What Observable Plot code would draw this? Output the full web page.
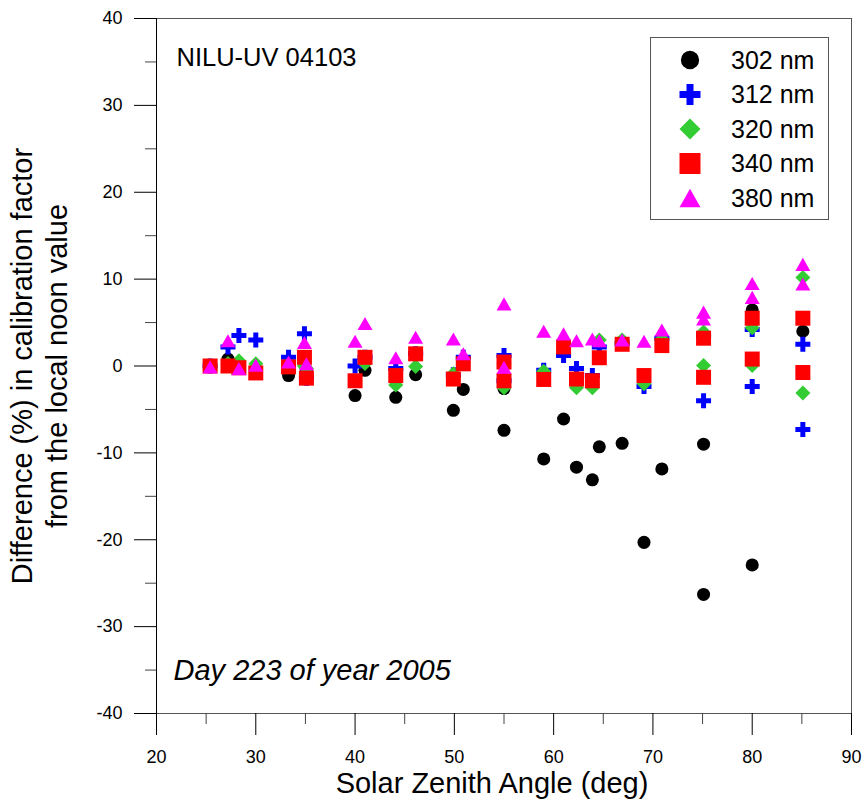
<!DOCTYPE html>
<html><head><meta charset="utf-8">
<script src="https://cdn.jsdelivr.net/npm/d3@7"></script>
<script src="https://cdn.jsdelivr.net/npm/@observablehq/plot@0.6"></script>
<style>
body{margin:0;background:#fff;}
#wrap{position:relative;width:864px;height:800px;font-family:Arial,"Liberation Sans",sans-serif;}
#legend{position:absolute;left:0;top:0;pointer-events:none;}
</style></head><body><div id="wrap"></div>
<script>
// Solar zenith angle (deg) of each measurement
const sza = [25.4, 27.2, 28.3, 30.0, 33.3, 34.9, 35.1, 40.0, 41.0, 44.1, 46.1, 49.9, 50.9, 55.0, 55.0,
  59.0, 61.0, 62.3, 63.9, 64.6, 66.9, 69.1, 70.9, 75.1, 75.1, 80.0, 80.0, 85.1, 85.1];
// Difference (%) for each wavelength
const d302 = [0.0, 0.8, -0.2, -0.8, -1.1, 1.0, -0.6, -3.4, -0.5, -3.6, -1.0, -5.1, -2.7, -7.4, -2.6,
  -10.7, -6.1, -11.65, -13.1, -9.3, -8.9, -20.3, -11.85, -26.3, -9.0, -22.9, 6.45, 4.0, null];
const d312 = [0.0, 2.2, 3.5, 3.0, 1.0, 3.7, -1.4, 0.0, 1.0, -0.3, 1.4, -1.0, 1.0, -1.7, 1.2,
  -0.5, 1.2, -0.3, -1.1, 2.2, 2.6, -2.35, 3.2, -4.0, 3.5, -2.35, 4.2, 2.5, -7.3];
const d320 = [0.0, 0.3, 0.6, 0.25, 0.0, 0.0, -0.3, -1.7, 0.3, -2.2, -0.05, -0.9, 0.3, -2.5, 0.3,
  -0.6, 2.2, -2.5, -2.5, 3.0, 3.0, -2.05, 3.1, 0.05, 3.9, 0.05, 4.4, 10.2, -3.1];
const d340 = [0.0, 0.0, -0.2, -0.8, -0.1, 1.0, -1.4, -1.7, 1.0, -1.1, 1.4, -1.5, 0.25, -1.7, 0.45,
  -1.55, 2.2, -1.5, -1.7, 0.95, 2.5, -1.1, 2.35, -1.3, 3.2, 0.8, 5.5, 5.5, -0.75];
const d380 = [-0.1, 2.9, -0.3, 0.1, 0.45, 2.7, 0.25, 2.85, 4.9, 0.95, 3.3, 3.1, 1.4, -0.15, 7.15,
  4.0, 3.7, 2.9, 3.1, 2.9, 3.0, 2.85, 4.15, 5.4, 6.2, 7.9, 9.5, 11.7, 9.45];

const seriesNames = ["302 nm", "312 nm", "320 nm", "340 nm", "380 nm"];
const seriesValues = [d302, d312, d320, d340, d380];
const seriesColors = ["#000000", "#0000ff", "#33cc33", "#ff0000", "#ff00ff"];

const xMajor = [20, 30, 40, 50, 60, 70, 80, 90];
const xMinor = [25, 35, 45, 55, 65, 75, 85];
const yMajor = [-40, -30, -20, -10, 0, 10, 20, 30, 40];
const yMinor = [-35, -25, -15, -5, 5, 15, 25, 35];

const instrument = "NILU-UV 04103";
const dayLabel = "Day 223 of year 2005";
const xTitle = "Solar Zenith Angle (deg)";
const yTitle = "Difference (%) in calibration factor\nfrom the local noon value";

// custom symbols; r = sqrt(size/PI) = half width
const symCircle = {draw(c, s){const r = Math.sqrt(s/Math.PI)*0.87; c.moveTo(r,0); c.arc(0,0,r,0,2*Math.PI); c.closePath();}};
const symPlus = {draw(c, s){const r = Math.sqrt(s/Math.PI), t = r/3;
  const p = [[-t,-r],[t,-r],[t,-t],[r,-t],[r,t],[t,t],[t,r],[-t,r],[-t,t],[-r,t],[-r,-t],[-t,-t]];
  c.moveTo(...p[0]); for (const q of p.slice(1)) c.lineTo(...q); c.closePath();}};
const symDiamond = {draw(c, s){const r = Math.sqrt(s/Math.PI);
  c.moveTo(0,-r); c.lineTo(r,0); c.lineTo(0,r); c.lineTo(-r,0); c.closePath();}};
const symSquare = {draw(c, s){const r = Math.sqrt(s/Math.PI); c.rect(-r,-r,2*r,2*r);}};
const symTriangle = {draw(c, s){const r = Math.sqrt(s/Math.PI), h = 0.87*r;
  c.moveTo(0,-h); c.lineTo(r,h); c.lineTo(-r,h); c.closePath();}};
const seriesSymbols = [symCircle, symPlus, symDiamond, symSquare, symTriangle];

const dotMarks = seriesValues.map((vals, k) => Plot.dot(
  sza.map((x, i) => ({x, y: vals[i]})).filter(d => d.y != null),
  {x: "x", y: "y", r: 7.5, fill: seriesColors[k], symbol: seriesSymbols[k]}
));

const fmt = d => String(d);
const chart = Plot.plot({
  width: 864, height: 800,
  marginLeft: 156, marginRight: 13, marginTop: 18, marginBottom: 87,
  x: {domain: [20, 90]},
  y: {domain: [-40, 40]},
  style: {fontFamily: "Arial, 'Liberation Sans', sans-serif", fontSize: "18px", background: "white", color: "black"},
  marks: [
    Plot.frame({stroke: "#555"}),
    Plot.ruleX([20], {stroke: "#000"}),
    Plot.ruleY([-40], {stroke: "#555"}),
    Plot.axisX({ticks: xMajor, tickSize: 22, tickPadding: 15, tickFormat: fmt, fontSize: 18, label: null, stroke: "#000"}),
    Plot.axisX({ticks: xMinor, tickSize: 11, tickFormat: () => "", label: null, stroke: "#444"}),
    Plot.axisY({ticks: yMajor, tickSize: 22, tickPadding: 12, tickFormat: fmt, fontSize: 18, label: null, stroke: "#000"}),
    Plot.axisY({ticks: yMinor, tickSize: 11, tickFormat: () => "", label: null, stroke: "#444"}),
    ...dotMarks,
    Plot.text([instrument], {frameAnchor: "top-left", dx: 20, dy: 39, text: d => d, textAnchor: "start", lineAnchor: "middle", fontSize: 25.5}),
    Plot.text([dayLabel], {frameAnchor: "bottom-left", dx: 17, dy: -43, text: d => d, textAnchor: "start", lineAnchor: "middle", fontSize: 29, fontStyle: "italic"}),
    Plot.text([xTitle], {frameAnchor: "bottom", dx: -12, dy: 70, text: d => d, textAnchor: "middle", lineAnchor: "middle", fontSize: 29}),
    Plot.text([yTitle], {frameAnchor: "left", dx: -118, dy: 0, text: d => d, rotate: -90, textAnchor: "middle", lineAnchor: "middle", lineHeight: 1.2, fontSize: 29})
  ]
});
const wrap = document.getElementById("wrap");
wrap.appendChild(chart);

// legend overlay
const lg = d3.create("svg").attr("id", "legend").attr("width", 864).attr("height", 800)
  .style("font-family", "Arial, 'Liberation Sans', sans-serif");
lg.append("rect").attr("x", 650.5).attr("y", 37.5).attr("width", 178).attr("height", 182)
  .attr("fill", "white").attr("stroke", "#555").attr("stroke-width", 1);
seriesNames.forEach((name, k) => {
  const cy = 60 + k * 34.5;
  lg.append("path").attr("transform", `translate(690,${cy})`)
    .attr("d", d3.symbol(seriesSymbols[k], Math.PI * 10.5 * 10.5)())
    .attr("fill", seriesColors[k]);
  lg.append("text").attr("x", 731).attr("y", cy).attr("dy", "0.35em")
    .attr("font-size", 25).attr("fill", "#000").text(name);
});
wrap.appendChild(lg.node());
</script></body></html>
